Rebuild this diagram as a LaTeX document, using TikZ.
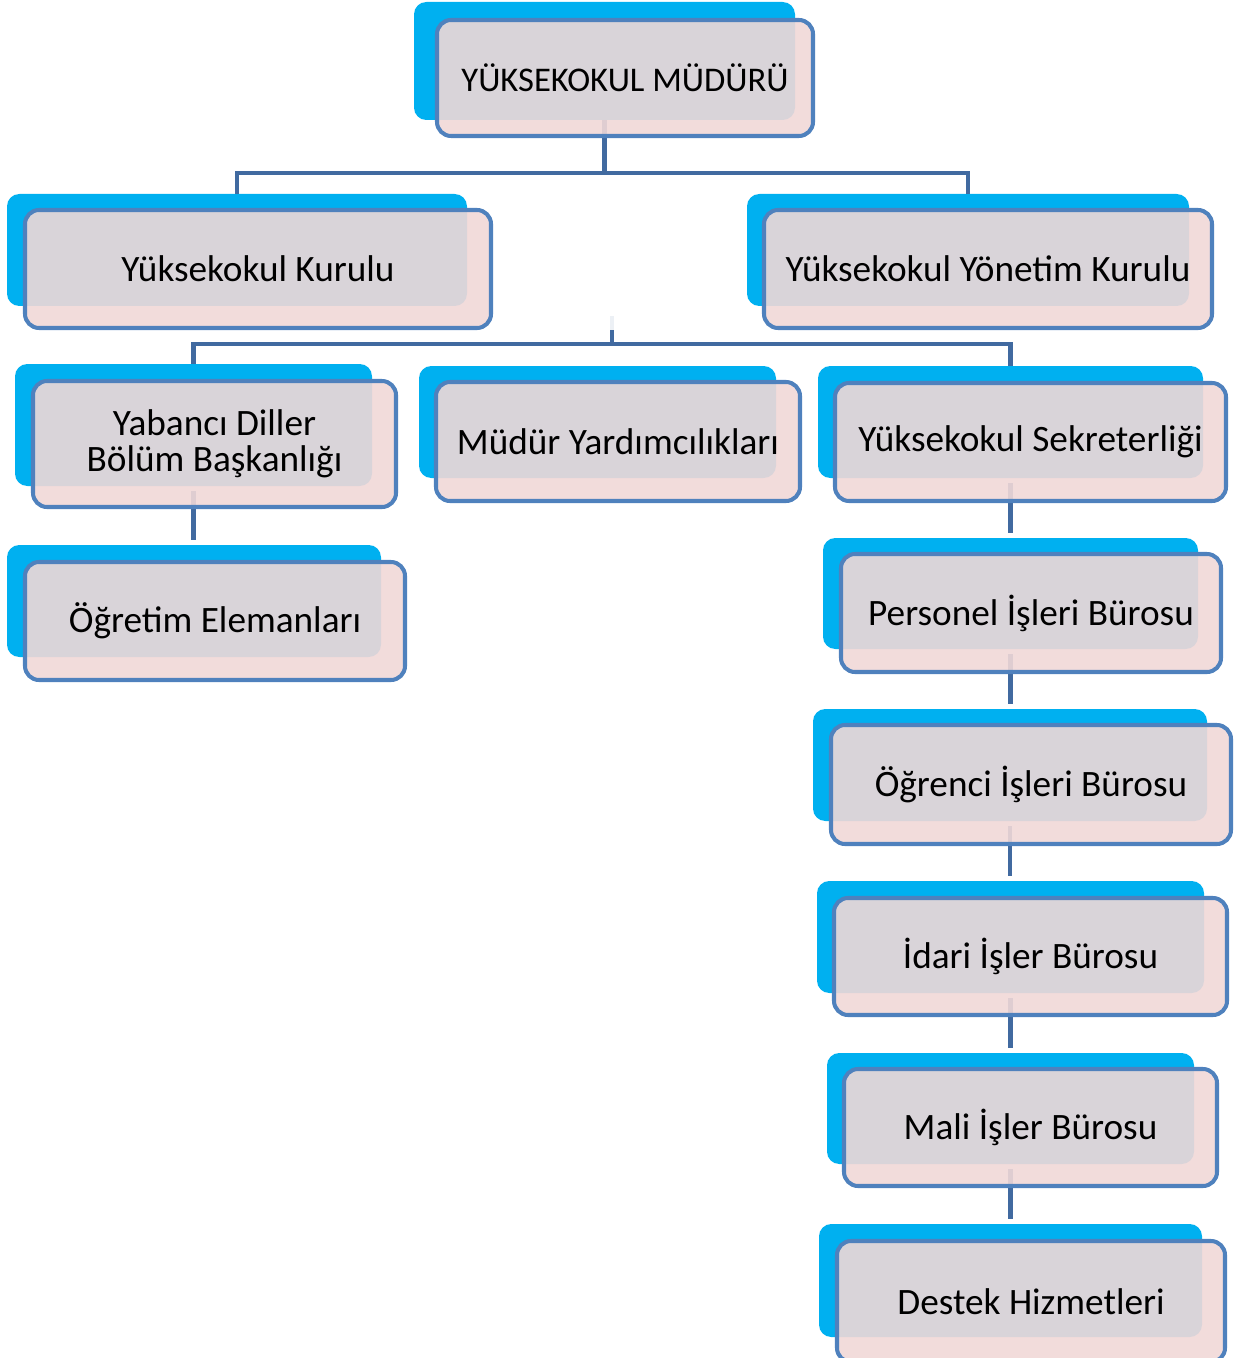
\documentclass[tikz,border=0pt]{standalone}
\usepackage{fontspec}
\setmainfont{Carlito}
\definecolor{unitcyan}{RGB}{0, 176, 240}
\definecolor{unitpink}{RGB}{241, 216, 215}
\definecolor{unitline}{RGB}{79, 129, 189}
\definecolor{linkblue}{RGB}{65, 106, 160}
\usetikzlibrary{positioning, fit}

\begin{document}
\begin{tikzpicture}[
    x=0.02cm, y=-0.02cm,
    backbox/.style={
        rectangle, fill=unitcyan, rounded corners=7pt, inner sep=0pt
    },
    frontbox/.style={
        rectangle, draw=unitline, fill=unitpink, fill opacity=0.9,
        line width=2.3pt, rounded corners=8pt, inner sep=0pt
    },
    unittext/.style={
        inner sep=0pt, align=center, font=\fontsize{21.2}{20.6}\selectfont
    },
    link/.style={
        line width=2.8pt, color=linkblue
    }
]
\useasboundingbox (0,0) rectangle (1234,1358);

% Back boxes
\node[backbox, fit={(414,2) (795,120)}] (mudur) {};
\node[backbox, fit={(7,194) (467,306)}] (kurulu) {};
\node[backbox, fit={(747,194) (1189,306)}] (yonetim) {};
\node[backbox, fit={(15,364) (372,486)}] (yabanci) {};
\node[backbox, fit={(7,545) (381,657)}] (ogretim) {};
\node[backbox, fit={(419,366) (776,478)}] (yardim) {};
\node[backbox, fit={(818,366) (1203,478)}] (sekreter) {};
\node[backbox, fit={(823,538) (1198,649)}] (personel) {};
\node[backbox, fit={(813,709) (1207,821)}] (ogrenci) {};
\node[backbox, fit={(817,881) (1204,993)}] (idari) {};
\node[backbox, fit={(827,1053) (1194,1164)}] (mali) {};
\node[backbox, fit={(819,1224) (1202,1337)}] (destek) {};

% Connections
\coordinate (bus1) at (605,173);
\coordinate (bus2) at (612,344);
\coordinate (stub) at (612,316);
\draw[link] (mudur.south) -- (mudur.south |- bus1);
\draw[link] (kurulu.north) -- (kurulu.north |- bus1) -- (yonetim.north |- bus1) -- (yonetim.north);
\draw[link, draw opacity=0.1] (stub) -- ++(0,14);
\draw[link] (stub) ++(0,14) -- (stub |- bus2);
\draw[link] (yabanci.north) -- (yabanci.north |- bus2) -- (sekreter.north |- bus2) -- (sekreter.north);
\draw[link, shorten <=0.1cm, shorten >=0.1cm] (yabanci.south) -- (yabanci.south |- ogretim.north);
\foreach \a/\b in {sekreter/personel, personel/ogrenci, ogrenci/idari, idari/mali, mali/destek}
    \draw[link, shorten <=0.1cm, shorten >=0.1cm] (\a.south) -- (\a.south |- \b.north);

% Front boxes
\node[frontbox, fit={(437,20) (813,136)}] (mudurF) {};
\node[frontbox, fit={(25,210) (491,328)}] (kuruluF) {};
\node[frontbox, fit={(764,210) (1212,328)}] (yonetimF) {};
\node[frontbox, fit={(33,381) (396,507)}] (yabanciF) {};
\node[frontbox, fit={(25,562) (405,680)}] (ogretimF) {};
\node[frontbox, fit={(436,382) (800,501)}] (yardimF) {};
\node[frontbox, fit={(835,383) (1226,501)}] (sekreterF) {};
\node[frontbox, fit={(841,554) (1221,672)}] (personelF) {};
\node[frontbox, fit={(831,725) (1231,844)}] (ogrenciF) {};
\node[frontbox, fit={(834,898) (1227,1015)}] (idariF) {};
\node[frontbox, fit={(844,1069) (1217,1186)}] (maliF) {};
\node[frontbox, fit={(837,1241) (1225,1362)}] (destekF) {};

% Texts
\node[unittext, font=\fontsize{19.7}{20}\selectfont] (mudurT) at (mudurF.center) {YÜKSEKOKUL MÜDÜRÜ};
\node[unittext] (kuruluT) at (kuruluF.center) {Yüksekokul Kurulu};
\node[unittext] (yonetimT) at (yonetimF.center) {Yüksekokul Yönetim Kurulu};
\node[unittext] (yabanciT) at (yabanciF.center) {Yabancı Diller\\Bölüm Başkanlığı};
\node[unittext] (ogretimT) at (ogretimF.center) {Öğretim Elemanları};
\node[unittext] (yardimT) at (yardimF.center) {Müdür Yardımcılıkları};
\node[unittext] (sekreterT) at (sekreterF.center) {Yüksekokul Sekreterliği};
\node[unittext] (personelT) at (personelF.center) {Personel İşleri Bürosu};
\node[unittext] (ogrenciT) at (ogrenciF.center) {Öğrenci İşleri Bürosu};
\node[unittext] (idariT) at (idariF.center) {İdari İşler Bürosu};
\node[unittext] (maliT) at (maliF.center) {Mali İşler Bürosu};
\node[unittext] (destekT) at (destekF.center) {Destek Hizmetleri};

\end{tikzpicture}
\end{document}
